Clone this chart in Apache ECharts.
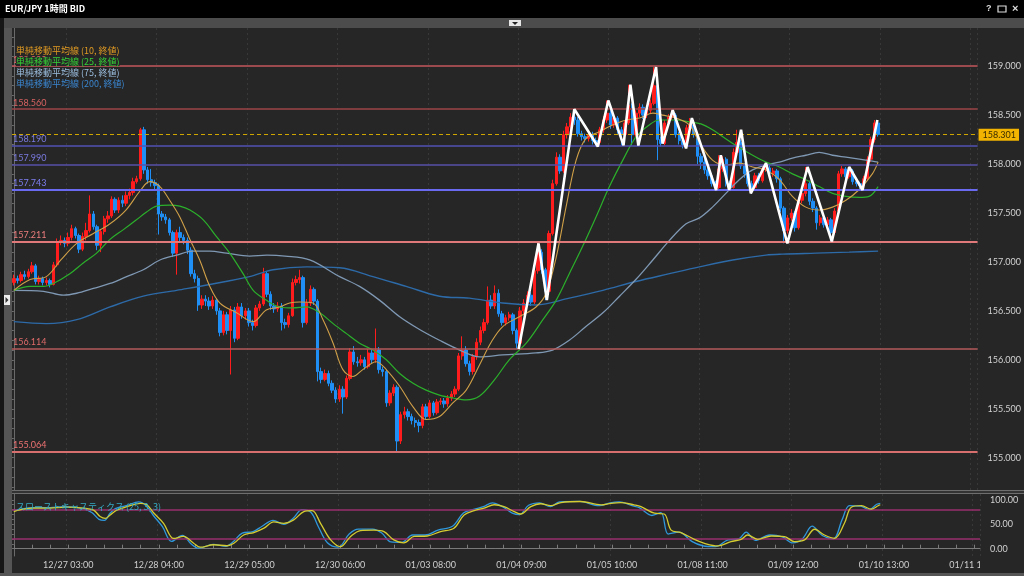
<!DOCTYPE html>
<html><head><meta charset="utf-8">
<script src="https://cdn.jsdelivr.net/npm/echarts@6/dist/echarts.min.js"></script>
<style>html,body{margin:0;padding:0;background:#262626;overflow:hidden}#c{width:1024px;height:576px}</style>
</head><body><div id="c"></div>
<script>
// ---------- DATA ----------
const barCount = 267;
const firstOpen = 156.79;
const closes = [156.83,156.81,156.87,156.85,156.90,156.96,156.80,156.83,156.79,156.81,
156.77,156.97,157.20,157.22,157.19,157.25,157.34,157.27,157.13,157.26,
157.32,157.49,157.36,157.17,157.31,157.44,157.47,157.64,157.53,157.63,
157.60,157.68,157.71,157.82,157.85,158.35,157.94,157.84,157.81,157.78,
157.49,157.46,157.43,157.30,157.09,157.30,157.25,157.22,157.12,156.88,
156.83,156.56,156.62,156.60,156.55,156.61,156.50,156.28,156.46,156.30,
156.51,156.22,156.54,156.45,156.50,156.38,156.35,156.53,156.57,156.88,
156.67,156.55,156.52,156.55,156.38,156.36,156.45,156.79,156.82,156.84,
156.38,156.58,156.72,156.60,155.88,155.80,155.86,155.76,155.69,155.60,
155.70,155.62,155.81,156.08,155.98,155.97,156.00,155.93,156.07,156.00,
156.10,155.90,155.88,155.56,155.66,155.72,155.17,155.44,155.47,155.42,
155.38,155.36,155.33,155.52,155.42,155.56,155.46,155.57,155.58,155.55,
155.61,155.65,155.70,156.04,156.10,155.96,155.88,156.03,156.18,156.30,
156.38,156.61,156.55,156.68,156.47,156.38,156.43,156.46,156.30,156.17,
156.50,156.58,156.66,156.59,156.91,157.10,156.92,156.70,157.29,157.80,
158.07,157.93,158.30,158.38,158.48,158.45,158.31,158.28,158.26,158.30,
158.24,158.22,158.35,158.45,158.52,158.40,158.47,158.35,158.30,158.42,
158.60,158.30,158.52,158.58,158.50,158.55,158.62,158.80,158.25,158.21,
158.42,158.48,158.50,158.30,158.24,158.20,158.37,158.40,158.30,158.08,
158.02,157.94,157.88,157.80,157.76,157.95,158.05,157.80,157.76,158.12,
158.22,157.98,157.90,157.80,157.76,157.88,157.83,157.95,157.96,157.90,
157.93,157.85,157.55,157.32,157.45,157.50,157.35,157.63,157.70,157.80,
157.62,157.55,157.40,157.45,157.38,157.43,157.30,157.52,157.90,157.95,
157.87,157.93,157.82,157.80,157.78,157.85,158.05,158.25,158.42,158.301];
const lows = [156.76,156.78,156.79,156.82,156.83,156.88,156.77,156.77,156.76,156.76,
156.74,156.76,156.95,157.17,157.15,157.16,157.22,157.24,157.09,157.11,
157.22,157.30,157.33,157.12,157.10,157.28,157.40,157.45,157.50,157.50,
157.56,157.57,157.64,157.68,157.80,157.83,157.90,157.80,157.77,157.74,
157.28,157.42,157.39,157.27,157.05,156.87,157.21,157.18,157.08,156.85,
156.79,156.50,156.52,156.55,156.51,156.52,156.46,156.24,156.25,156.26,
155.85,156.18,156.20,156.42,156.41,156.34,156.30,156.33,156.50,156.55,
156.64,156.51,156.48,156.49,156.30,156.32,156.33,156.44,156.76,156.78,
156.33,156.36,156.55,156.56,155.78,155.76,155.78,155.73,155.66,155.56,
155.57,155.45,155.60,155.79,155.95,155.93,155.94,155.90,155.91,155.96,
155.97,155.86,155.83,155.52,155.53,155.63,155.06,155.14,155.40,155.38,
155.34,155.31,155.26,155.30,155.39,155.40,155.43,155.44,155.54,155.51,
155.52,155.58,155.62,155.68,156.00,155.93,155.84,155.85,156.00,156.15,
156.27,156.36,156.52,156.52,156.44,156.35,156.35,156.40,156.26,156.11,
156.15,156.47,156.55,156.55,156.57,156.88,156.88,156.61,156.68,157.27,
157.78,157.90,157.91,158.26,158.35,158.40,158.28,158.24,158.22,158.23,
158.20,158.18,158.20,158.32,158.42,158.36,158.37,158.31,158.19,158.27,
158.40,158.19,158.27,158.48,158.46,158.47,158.52,158.60,158.04,158.18,
158.19,158.39,158.45,158.27,158.20,158.16,158.18,158.34,158.27,158.00,
157.95,157.90,157.84,157.77,157.73,157.74,157.92,157.77,157.73,157.75,
158.10,157.95,157.86,157.77,157.70,157.74,157.80,157.81,157.92,157.86,
157.87,157.81,157.51,157.19,157.29,157.42,157.31,157.33,157.60,157.67,
157.58,157.51,157.33,157.37,157.35,157.35,157.21,157.28,157.50,157.87,
157.84,157.85,157.79,157.77,157.74,157.76,157.83,158.02,158.22,158.28];
const highs = [156.87,156.86,156.90,156.91,156.93,157.00,156.98,156.86,156.85,156.84,
156.83,157.00,157.24,157.27,157.25,157.30,157.38,157.36,157.29,157.30,
157.40,157.68,157.52,157.38,157.33,157.47,157.52,157.67,157.66,157.66,
157.68,157.72,157.75,157.86,157.88,158.37,158.38,157.97,157.95,157.84,
157.80,157.52,157.49,157.45,157.32,157.33,157.36,157.28,157.25,157.15,
156.92,156.86,156.66,156.66,156.64,156.65,156.63,156.53,156.50,156.49,
156.55,156.54,156.58,156.58,156.53,156.53,156.41,156.56,156.60,156.94,
156.90,156.70,156.58,156.59,156.58,156.42,156.48,156.83,156.86,156.92,
156.86,156.62,156.76,156.74,156.62,155.92,155.90,155.89,155.79,155.72,
155.74,155.73,155.84,156.12,156.14,156.03,156.05,156.03,156.11,156.10,
156.32,156.13,155.93,155.90,155.69,155.75,155.74,155.47,155.52,155.50,
155.45,155.41,155.39,155.55,155.55,155.59,155.58,155.60,155.61,155.61,
155.64,155.68,155.73,156.07,156.24,156.14,155.99,156.06,156.22,156.34,
156.42,156.75,156.66,156.76,156.72,156.50,156.46,156.49,156.48,156.32,
156.54,156.62,156.70,156.69,156.95,157.19,157.13,156.94,157.32,157.84,
158.12,158.10,158.34,158.42,158.52,158.56,158.48,158.34,158.31,158.33,
158.33,158.27,158.38,158.49,158.65,158.55,158.50,158.49,158.38,158.45,
158.81,158.62,158.55,158.62,158.61,158.58,158.66,158.99,158.86,158.28,
158.45,158.51,158.55,158.52,158.33,158.27,158.40,158.47,158.42,158.32,
158.11,158.05,157.97,157.91,157.83,158.09,158.08,158.07,157.83,158.16,
158.35,158.25,158.01,157.93,157.83,157.91,157.91,157.98,158.01,157.99,
157.96,157.95,157.87,157.57,157.48,157.54,157.52,157.66,157.74,157.97,
157.83,157.65,157.57,157.48,157.48,157.46,157.45,157.55,157.93,157.98,
157.97,157.97,157.95,157.85,157.82,157.88,158.08,158.28,158.45,158.45];

// moving averages, read as [bar index, price]
const ma10 = [[0,156.71],[4.5,156.82],[9,156.85],[13,157.02],[17.4,157.19],[22,157.29],[26.6,157.39],[31,157.53],[35,157.73],[37.6,157.82],[40.4,157.77],[43.1,157.63],[45.9,157.46],[48.7,157.23],[51.4,157.02],[54.2,156.75],[57,156.58],[61.6,156.48],[66.2,156.39],[69.8,156.51],[73.5,156.54],[76.3,156.58],[79,156.59],[82.7,156.58],[85.5,156.41],[88.3,156.17],[91,155.90],[93.8,155.83],[96.5,155.90],[100.2,155.98],[103,155.90],[106.7,155.73],[110.4,155.52],[114,155.39],[117.7,155.42],[121.4,155.56],[125.1,155.69],[128.8,155.95],[132,156.18],[135.2,156.34],[139.8,156.44],[144.4,156.54],[147.2,156.68],[150,157.05],[152.7,157.56],[155.5,158.04],[158.2,158.26],[161.9,158.33],[165.6,158.40],[169.3,158.45],[173,158.47],[176.7,158.52],[179.4,158.50],[183.1,158.47],[186.8,158.40],[189.6,158.22],[193.2,158.04],[196.9,157.99],[200.6,158.01],[204.3,157.97],[208,157.94],[211.7,157.84],[215.3,157.67],[219,157.56],[222.7,157.53],[226.4,157.56],[230.1,157.63],[233.8,157.74],[237.4,157.90],[239,158.02]];
const ma25 = [[0,156.71],[4.5,156.75],[8.2,156.75],[10.9,156.78],[15.5,156.88],[19.2,156.99],[22.9,157.09],[26.6,157.23],[30.3,157.33],[33.9,157.43],[36.7,157.51],[39.5,157.57],[43.1,157.58],[45.9,157.57],[48.7,157.53],[52.4,157.43],[56,157.26],[59.7,157.09],[63.4,156.88],[66.2,156.71],[69.8,156.61],[73.5,156.54],[77.2,156.53],[80.9,156.54],[84.6,156.48],[88.3,156.37],[91.9,156.27],[95.6,156.17],[99.3,156.10],[103,156.00],[106.7,155.86],[110.4,155.76],[114,155.69],[117.7,155.64],[121.4,155.61],[125.1,155.59],[128.8,155.63],[133,155.80],[137,156.00],[141.7,156.17],[146.3,156.41],[150,156.61],[153.6,156.88],[157.3,157.16],[161,157.46],[164.7,157.77],[168.4,158.04],[172.1,158.28],[175.7,158.40],[178.5,158.45],[183.1,158.45],[186.8,158.43],[190,158.41],[193.2,158.35],[198.8,158.21],[204.3,158.09],[208,158.02],[211.7,157.97],[215.3,157.90],[219,157.84],[222.7,157.77],[226.4,157.70],[230.1,157.67],[233.8,157.66],[236.5,157.67],[239,157.77]];
const ma75 = [[0,156.71],[8.2,156.70],[13.7,156.66],[17.4,156.68],[22,156.73],[26.6,156.78],[31.2,156.85],[35.8,156.92],[40.4,157.02],[45,157.07],[49.6,157.11],[54.2,157.11],[58.8,157.09],[65.2,157.06],[70,157.07],[75,157.06],[81.8,157.02],[90.1,156.85],[95.6,156.75],[101.1,156.61],[106.7,156.44],[112.2,156.31],[117.7,156.20],[123.3,156.10],[128.8,156.03],[135.2,156.05],[144.4,156.07],[149,156.10],[153.6,156.20],[158.2,156.34],[162.9,156.48],[167.5,156.65],[172,156.82],[176.7,157.02],[181.3,157.22],[185.9,157.39],[189.6,157.45],[193.2,157.56],[196.9,157.70],[200.6,157.84],[204.3,157.94],[208,157.99],[211.7,158.02],[215.3,158.06],[219,158.09],[222.7,158.12],[226.4,158.09],[230.1,158.07],[233.8,158.05],[237.4,158.03],[239,158.02]];
const ma200 = [[0,156.39],[9,156.37],[17.4,156.41],[26.6,156.54],[35.8,156.65],[45,156.71],[54.2,156.77],[65.2,156.85],[71.7,156.92],[80.9,156.95],[90.1,156.94],[99.3,156.85],[108.5,156.75],[117.7,156.65],[126,156.63],[135.2,156.58],[144.4,156.56],[153.6,156.63],[162.9,156.71],[172,156.80],[181.3,156.88],[189.6,156.95],[198.8,157.02],[208,157.07],[212.6,157.08],[221.8,157.09],[231,157.10],[239,157.11]];
// white zigzag pivots [bar index, price]
const zigzag = [[139.6,156.11],[145.1,157.19],[147.4,156.61],[155,158.56],[161.5,158.18],[164.4,158.65],[168.6,158.19],[170.5,158.81],[172.7,158.19],[177.6,158.99],[179.4,158.21],[182.2,158.55],[185.9,158.16],[187.5,158.47],[194.2,157.735],[195.5,158.09],[197.8,157.735],[201.1,158.35],[203.8,157.70],[208,158.01],[213.9,157.19],[219.5,157.97],[226.2,157.21],[231,157.97],[234.7,157.735],[238.8,158.45]];
// slow stochastics (25,3,3) [bar index, value]
const stochD = [[0,76],[1.7,79.5],[5.4,83],[10,83],[14.6,85],[19.2,83],[22,79],[23.8,66],[25.2,62],[26.6,69],[28.4,79],[31.2,86],[34.9,93],[36.7,90],[38.6,73],[41.3,52],[44.1,21],[46.8,25],[49.6,11],[51.4,3],[55.1,8],[58.8,6],[60.7,11],[63.4,28],[66.2,33],[69,42],[71.7,55],[74.5,52],[77.2,59],[80,76],[82.3,78],[84.6,52],[87.4,18],[90.1,4],[92.9,25],[95.6,37],[99.3,38],[102.1,35],[104.8,18],[107.6,12],[110.4,25],[114,26],[117.7,35],[121.4,42],[124.2,69],[127,78],[129.7,83],[132.5,90],[135.2,86],[138,76],[139.8,71],[142.6,86],[145.3,92],[148.1,88],[150.9,94.5],[156.4,96.6],[162,89.7],[164.7,93],[167.4,94.5],[171.1,89.7],[173,86.3],[176.7,72.6],[179.4,71],[181.3,38],[184,33],[187.7,19],[190.5,11],[194.2,5.6],[197.8,14.5],[200.6,19],[202.4,28],[205.2,19],[208.9,26],[212.6,24.7],[215.3,14.5],[218.1,18],[220.9,39.8],[223.6,28],[226.4,21.3],[229.1,52],[231,85],[233.8,88],[236.5,81],[238.4,88],[239,90]];
const stochK = [[0,78],[2,81],[5,84],[10,84],[14,86],[19,82],[21.5,74],[23.5,60],[25,58],[26.5,72],[28,82],[31,88],[34.5,96],[36.5,88],[38.5,68],[41,45],[43.5,15],[46.5,27],[49,9],[51,1],[55,9],[58.5,5],[60.5,14],[63,32],[66,35],[68.5,46],[71.5,58],[74.5,50],[77,62],[79.5,80],[82,74],[84,45],[86.5,12],[89.5,3],[92.5,30],[95,40],[99,40],[101.5,32],[104,14],[107,13],[110,28],[113.5,28],[117,38],[121,46],[124,73],[126.5,80],[129.5,86],[132,94],[135,85],[137.5,73],[139.5,70],[142,89],[145,94],[148,86],[150.5,96],[156,97],[161.5,88],[164.5,94],[167,96],[170.5,88],[172.5,84],[176,68],[178.5,74],[180.5,30],[183.5,34],[187,15],[190,6],[193.5,4],[197,18],[200,20],[202,34],[204.5,17],[208.5,28],[212,24],[214.8,12],[217.5,20],[220.2,46],[223,27],[226,20],[228.5,60],[230.5,88],[233.5,87],[236,80],[238,91],[239,93]];
const redLevels = [159.000, 158.560, 157.211, 156.114, 155.064];
const blueLevels = [158.190, 157.990, 157.743];
const currentPrice = 158.301;
const stochLevels = [80, 20];
const priceTicks = [155.0,155.5,156.0,156.5,157.0,157.5,158.0,158.5,159.0];
const stochTicks = [0, 50, 100];
const tickLabels = ['12/27 03:00','12/28 04:00','12/29 05:00','12/30 06:00','01/03 08:00','01/04 09:00','01/05 10:00','01/08 11:00','01/09 12:00','01/10 13:00','01/11 14:00'];
const firstLabelIndex = 15, labelStep = 25;
const legendTexts = ['単純移動平均線 (10, 終値)','単純移動平均線 (25, 終値)','単純移動平均線 (75, 終値)','単純移動平均線 (200, 終値)'];
const stochTitle = 'スローストキャスティクス (25, 3, 3)';
const chartTitle = 'EUR/JPY 1時間 BID';

// ---------- BUILD ----------
const FONT = 'Lato, "Noto Sans CJK JP", sans-serif';
const cats = [];
for (let i = 0; i < barCount; i++) cats.push('b' + i);
const isLabel = i => i >= firstLabelIndex && (i - firstLabelIndex) % labelStep === 0;
const labelOf = i => tickLabels[(i - firstLabelIndex) / labelStep] || '';
const ohlc = closes.map((c, i) => [i === 0 ? firstOpen : closes[i - 1], c, lows[i], highs[i]]);

const minorPrice = [];
for (let v = 154.7; v < 159.35; v += 0.1) minorPrice.push(+v.toFixed(1));
const minorStoch = [];
for (let v = 0; v <= 100; v += 10) minorStoch.push(v);

const redStyle = [
  {c:'#c4575b', w:1.5, lc:'#e06666'},
  {c:'#9c4448', w:1.6, lc:'#d86262'},
  {c:'#e07a7a', w:2, lc:'#ee7d7d'},
  {c:'#b45a5a', w:1.6, lc:'#e06a6a'},
  {c:'#d86f6f', w:2, lc:'#ee7272'}
];
const blueStyle = [
  {c:'#5252b4', w:1.6, lc:'#7a7ae0'},
  {c:'#5650a8', w:1.6, lc:'#7a7ae0'},
  {c:'#6a6af0', w:2, lc:'#7e7ef0'}
];
const mlData = [];
redLevels.forEach((v, k) => mlData.push({yAxis: v, lineStyle:{color:redStyle[k].c, width:redStyle[k].w, type:'solid', opacity:1},
  label:{show:true, position:'insideStartTop', formatter: v.toFixed(3), color:redStyle[k].lc, fontSize:9, fontFamily:FONT, distance:[1,2]}}));
blueLevels.forEach((v, k) => mlData.push({yAxis: v, lineStyle:{color:blueStyle[k].c, width:blueStyle[k].w, type:'solid', opacity:1},
  label:{show:true, position:'insideStartTop', formatter: v.toFixed(3), color:blueStyle[k].lc, fontSize:9, fontFamily:FONT, distance:[1,2]}}));
mlData.push({yAxis: currentPrice, lineStyle:{color:'#cfa500', width:1, type:[4,3]},
  label:{show:true, position:'end', formatter: currentPrice.toFixed(3), color:'#3a2c00', backgroundColor:'#f2b400',
  padding:[2,3,1,4], fontSize:9, fontFamily:FONT, distance:1}});

function maSeries(name, data, color, width) {
  return {name, type:'line', xAxisIndex:1, yAxisIndex:0, data, smooth:0.35, showSymbol:false, symbol:'none',
    lineStyle:{color, width}, z:4, silent:true};
}

const graphics = [
  {type:'rect', shape:{x:0,y:0,width:1024,height:18}, style:{fill:'#000'}, z:100},
  {type:'text', x:5, y:4, style:{text:chartTitle, fill:'#fff', font:'bold 9px "Noto Sans CJK JP", sans-serif'}, z:101},
  {type:'text', x:986, y:4, style:{text:'?', fill:'#ddd', font:'bold 9px sans-serif'}, z:101},
  {type:'rect', shape:{x:998,y:6,width:8,height:6}, style:{fill:'none', stroke:'#ddd', lineWidth:1.2}, z:101},
  {type:'text', x:1012, y:3, style:{text:'×', fill:'#ddd', font:'bold 11px sans-serif'}, z:101},
  {type:'rect', shape:{x:0,y:18,width:1024,height:10}, style:{fill:'#4c4c4c'}, z:100},
  {type:'rect', shape:{x:509,y:20,width:12,height:6}, style:{fill:'#e6e6e6'}, z:101},
  {type:'polygon', shape:{points:[[512,22],[518,22],[515,25]]}, style:{fill:'#222'}, z:102},
  {type:'rect', shape:{x:0,y:18,width:4,height:558}, style:{fill:'#161616'}, z:100},
  {type:'rect', shape:{x:4,y:28,width:8,height:548}, style:{fill:'#555'}, z:100},
  {type:'rect', shape:{x:4,y:295,width:6,height:10}, style:{fill:'#eee'}, z:101},
  {type:'polygon', shape:{points:[[5.5,297],[5.5,303],[8.5,300]]}, style:{fill:'#333'}, z:102},
  {type:'rect', shape:{x:12,y:490,width:1012,height:4}, style:{fill:'#333'}, z:50},
  {type:'rect', shape:{x:12,y:490,width:1012,height:1}, style:{fill:'#6e6e6e'}, z:51},
  {type:'rect', shape:{x:12,y:493,width:1012,height:1}, style:{fill:'#6e6e6e'}, z:51},
  {type:'rect', shape:{x:0,y:573,width:1024,height:3}, style:{fill:'#555'}, z:100},
  {type:'rect', shape:{x:980,y:558,width:44,height:15}, style:{fill:'#262626'}, z:60},
  {type:'text', x:16, y:502, style:{text:stochTitle, fill:'#35aac4', font:'9px "Noto Sans CJK JP", sans-serif'}, z:60}
];
const legendColors = ['#e09a22', '#36d236', '#9cbfe0', '#3a86d0'];
legendTexts.forEach((t, k) => graphics.push({type:'text', x:16, y:46 + k*11,
  style:{text:t, fill:legendColors[k], font:'9px "Noto Sans CJK JP", sans-serif', backgroundColor:'#262626'}, z:60}));

const option = {
  animation:false,
  backgroundColor:'#262626',
  grid:[{left:12, right:44, top:28, bottom:86}, {left:12, right:44, top:494, bottom:20}],
  xAxis:[
    {type:'category', gridIndex:0, data:cats, boundaryGap:true, axisLine:{show:false}, axisTick:{show:false}, axisLabel:{show:false},
     splitLine:{show:true, interval:(i)=>isLabel(i), lineStyle:{color:'#383838', type:[2,3]}}},
    {type:'value', gridIndex:0, min:-0.5, max:barCount-0.5, show:false},
    {type:'category', gridIndex:1, data:cats, boundaryGap:true,
     axisLine:{show:true, lineStyle:{color:'#7a7a7a'}},
     axisTick:{show:true, inside:true, length:4, alignWithLabel:true, interval:(i)=> i % 5 === 0, lineStyle:{color:'#7a7a7a'}},
     axisLabel:{show:true, interval:(i)=>isLabel(i), formatter:(v, i)=>labelOf(i), color:'#cfcfcf', fontSize:9, fontFamily:FONT, margin:5},
     splitLine:{show:true, interval:(i)=>isLabel(i), lineStyle:{color:'#383838', type:[2,3]}}},
    {type:'value', gridIndex:1, min:-0.5, max:barCount-0.5, show:false}
  ],
  yAxis:[
    {type:'value', gridIndex:0, position:'right', min:154.67, max:159.39, offset:4,
     axisLine:{show:true, lineStyle:{color:'#6a6a6a'}},
     axisTick:{show:true, inside:true, length:3, customValues:minorPrice, lineStyle:{color:'#707070'}},
     axisLabel:{show:true, customValues:priceTicks, formatter:(v)=>v.toFixed(3), color:'#d2d2d2', fontSize:9, fontFamily:FONT, margin:6},
     splitLine:{show:false}},
    {type:'value', gridIndex:1, position:'right', min:-15, max:112, offset:4,
     axisLine:{show:true, lineStyle:{color:'#6a6a6a'}},
     axisTick:{show:true, inside:true, length:3, customValues:minorStoch, lineStyle:{color:'#707070'}},
     axisLabel:{show:true, customValues:stochTicks, formatter:(v)=>v.toFixed(2), color:'#d2d2d2', fontSize:9, fontFamily:FONT, margin:6},
     splitLine:{show:false}}
  ],
  series:[
    {type:'candlestick', xAxisIndex:0, yAxisIndex:0, data:ohlc, barWidth:'80%', z:3,
     itemStyle:{color:'#ff1c1c', color0:'#1f8ef5', borderColor:'#ff1c1c', borderColor0:'#1f8ef5', borderWidth:1},
     markLine:{symbol:['none','none'], silent:true, animation:false, data:mlData}},
    maSeries('ma200', ma200, '#2d6aa8', 1.4),
    maSeries('ma75', ma75, '#7f98b3', 1.3),
    maSeries('ma25', ma25, '#2bb02b', 1.2),
    maSeries('ma10', ma10, '#d0a048', 1.1),
    {type:'line', xAxisIndex:1, yAxisIndex:0, data:zigzag, showSymbol:false, symbol:'none', lineStyle:{color:'#ffffff', width:2.6}, z:8, silent:true},
    {type:'line', xAxisIndex:3, yAxisIndex:1, data:stochK, smooth:0.35, showSymbol:false, symbol:'none', lineStyle:{color:'#2f98dc', width:1.3}, z:4,
     markLine:{symbol:['none','none'], silent:true, animation:false, label:{show:false},
       data:stochLevels.map(v=>({yAxis:v, lineStyle:{color:'#9a2f6c', width:1.5, type:'solid'}}))}},
    {type:'line', xAxisIndex:3, yAxisIndex:1, data:stochD, smooth:0.35, showSymbol:false, symbol:'none', lineStyle:{color:'#d4cc30', width:1.3}, z:5}
  ],
  graphic:graphics
};
const chart = echarts.init(document.getElementById('c'), null, {renderer:'canvas'});
chart.setOption(option);
</script></body></html>
